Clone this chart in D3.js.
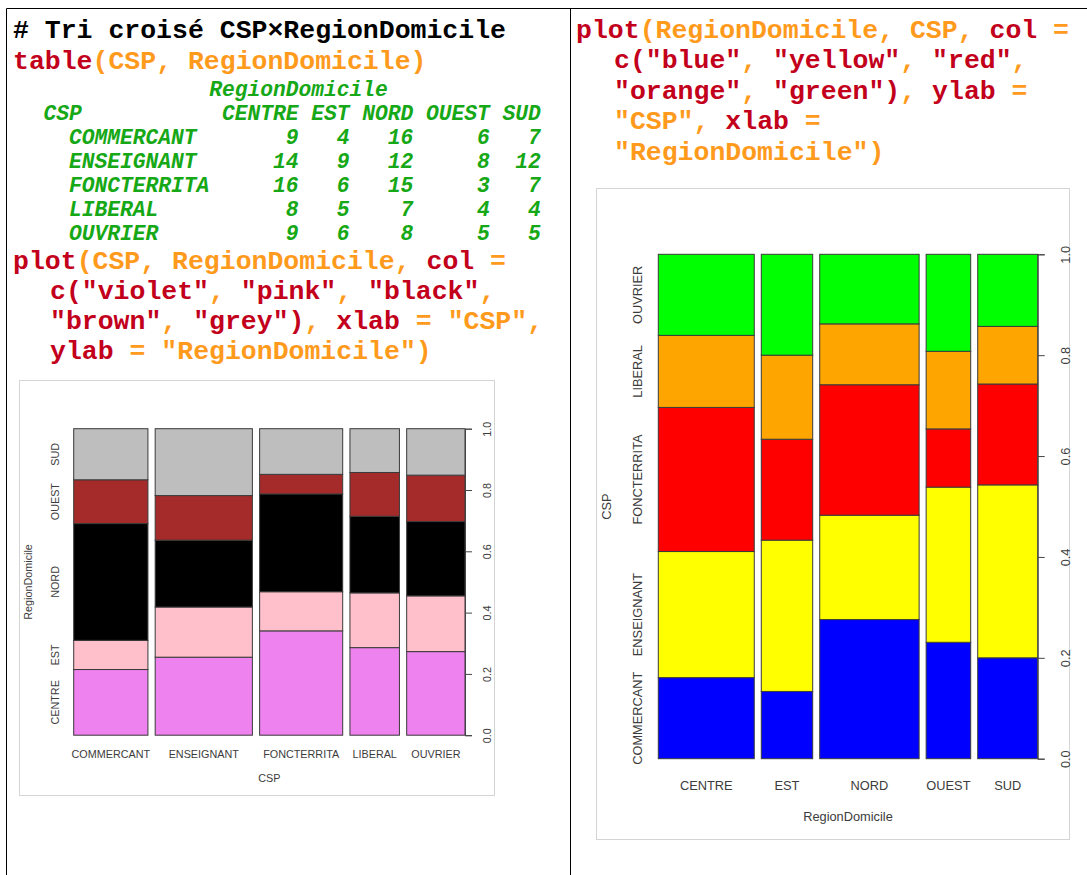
<!DOCTYPE html>
<html>
<head>
<meta charset="utf-8">
<script src="https://cdn.jsdelivr.net/npm/d3@7"></script>
<style>
  body { margin: 0; background: #fff; }
  svg text { white-space: pre; }
</style>
</head>
<body>
<div id="page"></div>
<script>
// categories
var csp = ["COMMERCANT", "ENSEIGNANT", "FONCTERRITA", "LIBERAL", "OUVRIER"];
var regions = ["CENTRE", "EST", "NORD", "OUEST", "SUD"];

// counts per CSP, in the order of regions
var commercant  = [9, 4, 16, 6, 7];
var enseignant  = [14, 9, 12, 8, 12];
var foncterrita = [16, 6, 15, 3, 7];
var liberal     = [8, 5, 7, 4, 4];
var ouvrier     = [9, 6, 8, 5, 5];

var counts = [commercant, enseignant, foncterrita, liberal, ouvrier];

// R colours: violet, pink, black, brown, grey / blue, yellow, red, orange, green
var colsLeft = ["#EE82EE", "#FFC0CB", "#000000", "#A52A2A", "#BEBEBE"];
var colsRight = ["#0000FF", "#FFFF00", "#FF0000", "#FFA500", "#00FF00"];
var yTicks = [0, 0.2, 0.4, 0.6, 0.8, 1.0];

var RED = "#c3001b", ORANGE = "#ff9a1c", GREEN = "#16a816";
var mono = "'Liberation Mono', 'Courier New', monospace";
var sans = "'Liberation Sans', Arial, sans-serif";
var INK = "#3c3c3c";

var svg = d3.select("#page").append("svg")
    .attr("width", 1087)
    .attr("height", 875);

svg.append("rect").attr("width", 1087).attr("height", 875).attr("fill", "#fff");

// cell borders
svg.append("path")
    .attr("d", "M6.5,875V8.5H1087M570.5,8.5V875")
    .attr("fill", "none")
    .attr("stroke", "#000")
    .attr("stroke-width", 1);

// code lines
function codeLine(x, y, parts) {
    var t = svg.append("text")
        .attr("x", x).attr("y", y)
        .attr("font-family", mono)
        .attr("font-weight", "bold")
        .attr("font-size", 26.5);
    parts.forEach(function(p) {
        t.append("tspan").attr("fill", p[1]).text(p[0]);
    });
}

codeLine(13, 37.5, [["# Tri croisé CSP×RegionDomicile", "#000"]]);
codeLine(13, 68.5, [["table", RED], ["(CSP, RegionDomicile)", ORANGE]]);
codeLine(13, 268.5, [["plot", RED], ["(CSP, RegionDomicile, ", ORANGE], ["col", RED], [" =", ORANGE]]);
codeLine(50, 298.5, [['c("violet"', RED], [", ", ORANGE], ['"pink"', RED], [", ", ORANGE], ['"black"', RED], [",", ORANGE]]);
codeLine(50, 328.5, [['"brown"', RED], [", ", ORANGE], ['"grey")', RED], [", ", ORANGE], ["xlab", RED], [" = ", ORANGE], ['"CSP",', ORANGE]]);
codeLine(50, 358.5, [["ylab", RED], [" = ", ORANGE], ['"RegionDomicile")', ORANGE]]);

codeLine(576, 37.5, [["plot", RED], ["(RegionDomicile, CSP, ", ORANGE], ["col", RED], [" =", ORANGE]]);
codeLine(614, 68, [['c("blue"', RED], [", ", ORANGE], ['"yellow"', RED], [", ", ORANGE], ['"red"', RED], [",", ORANGE]]);
codeLine(614, 98.5, [['"orange"', RED], [", ", ORANGE], ['"green")', RED], [", ", ORANGE], ["ylab", RED], [" =", ORANGE]]);
codeLine(614, 129, [['"CSP", ', ORANGE], ["xlab", RED], [" =", ORANGE]]);
codeLine(614, 159.5, [['"RegionDomicile")', ORANGE]]);

// table() output
var cw = 12.75, tx0 = 43.6;
var tab = svg.append("g")
    .attr("font-family", mono)
    .attr("font-weight", "bold")
    .attr("font-style", "italic")
    .attr("font-size", 21.25)
    .attr("fill", GREEN);

tab.append("text").attr("x", tx0 + 13 * cw).attr("y", 95.5).text("RegionDomicile");
tab.append("text").attr("x", tx0).attr("y", 119.5).text("CSP");

var colEnd = [], c = 14;
regions.forEach(function(r) { c += r.length; colEnd.push(c); c += 1; });

var rowY = d3.scaleLinear().domain([0, 1]).range([143.5, 167.5]);

regions.forEach(function(r, j) {
    tab.append("text").attr("x", tx0 + colEnd[j] * cw).attr("y", 119.5)
        .attr("text-anchor", "end").text(r);
});
csp.forEach(function(name, i) {
    tab.append("text").attr("x", tx0 + 2 * cw).attr("y", rowY(i)).text(name);
    counts[i].forEach(function(v, j) {
        tab.append("text").attr("x", tx0 + colEnd[j] * cw).attr("y", rowY(i))
            .attr("text-anchor", "end").text(v);
    });
});

// spine plot like R's plot(factor, factor)
function spine(o) {
    var g = svg.append("g");
    g.append("rect")
        .attr("x", o.box[0]).attr("y", o.box[1])
        .attr("width", o.box[2]).attr("height", o.box[3])
        .attr("fill", "#fff").attr("stroke", "#d4d4d4");

    var off = 0.02;
    var n = o.xcats.length;
    var x = d3.scaleLinear().domain([0, 1 + off * (n - 1)]).range(o.xr);
    var y = d3.scaleLinear().domain([0, 1]).range(o.yr);

    var total = d3.sum(o.m, d => d3.sum(d));
    var pos = 0;
    var bars = o.m.map(function(row, i) {
        var s = d3.sum(row), w = s / total;
        var acc = 0;
        var segs = row.map(function(v, j) {
            var seg = { y0: acc, y1: acc + v / s, j: j };
            acc += v / s;
            return seg;
        });
        var b = { x0: pos, x1: pos + w, segs: segs, name: o.xcats[i] };
        pos += w + off;
        return b;
    });

    var bg = g.selectAll("g.bar").data(bars).enter().append("g");
    bg.selectAll("rect").data(d => d.segs.map(s => Object.assign({ x0: d.x0, x1: d.x1 }, s)))
        .enter().append("rect")
        .attr("x", d => x(d.x0))
        .attr("width", d => x(d.x1) - x(d.x0))
        .attr("y", d => y(d.y1))
        .attr("height", d => y(d.y0) - y(d.y1))
        .attr("fill", d => o.colors[d.j])
        .attr("stroke", "#3a3a3a")
        .attr("stroke-width", 1);

    // category names under bars
    g.selectAll("text.xl").data(bars).enter().append("text")
        .attr("x", d => x((d.x0 + d.x1) / 2))
        .attr("y", o.xlabY)
        .attr("text-anchor", "middle")
        .attr("font-family", sans).attr("font-size", o.fs).attr("fill", INK)
        .text(d => d.name);

    // left labels at the middle of the first bar's segments
    g.selectAll("text.yl").data(bars[0].segs).enter().append("text")
        .attr("transform", d => "translate(" + o.ylabX + "," + y((d.y0 + d.y1) / 2) + ") rotate(-90)")
        .attr("text-anchor", "middle")
        .attr("dy", "0.35em")
        .attr("font-family", sans).attr("font-size", o.fs).attr("fill", INK)
        .text(d => o.ycats[d.j]);

    // right axis
    var ax = g.append("g")
        .attr("transform", "translate(" + x(bars[n - 1].x1) + ",0)")
        .call(d3.axisRight(y).tickValues(yTicks).tickFormat(d3.format(".1f")).tickSize(7).tickPadding(0));
    ax.select(".domain").attr("stroke", "#444");
    ax.selectAll(".tick line").attr("stroke", "#444");
    ax.selectAll(".tick text")
        .attr("x", o.tickLabX - x(bars[n - 1].x1))
        .attr("dy", 0)
        .attr("transform", function() {
            return "rotate(-90," + (o.tickLabX - x(bars[n - 1].x1)) + ",0)";
        })
        .attr("text-anchor", "middle")
        .attr("dominant-baseline", "central")
        .attr("font-family", sans).attr("font-size", o.fs).attr("fill", INK);

    g.append("text")
        .attr("x", (o.xr[0] + o.xr[1]) / 2).attr("y", o.titleY)
        .attr("text-anchor", "middle")
        .attr("font-family", sans).attr("font-size", o.fs).attr("fill", INK)
        .text(o.xlab);
    g.append("text")
        .attr("transform", "translate(" + o.titleX + "," + (o.yr[0] + o.yr[1]) / 2 + ") rotate(-90)")
        .attr("text-anchor", "middle")
        .attr("dy", "0.35em")
        .attr("font-family", sans).attr("font-size", o.fs).attr("fill", INK)
        .text(o.ylab);
}

spine({
    box: [19.5, 380.5, 475, 415],
    xcats: csp, ycats: regions, m: counts, colors: colsLeft,
    xr: [73.7, 465], yr: [735.2, 428.7],
    fs: 10.8, xlabY: 758, titleY: 782, ylabX: 55, titleX: 28.5, tickLabX: 487.3,
    xlab: "CSP", ylab: "RegionDomicile"
});

spine({
    box: [596.5, 188.5, 473, 651],
    xcats: regions, ycats: csp, m: regions.map((r, j) => counts.map(row => row[j])), colors: colsRight,
    xr: [658.3, 1037.7], yr: [758.7, 254.3],
    fs: 12.8, xlabY: 789.5, titleY: 821, ylabX: 637.7, titleX: 606.7, tickLabX: 1065,
    xlab: "RegionDomicile", ylab: "CSP"
});
</script>
</body>
</html>
